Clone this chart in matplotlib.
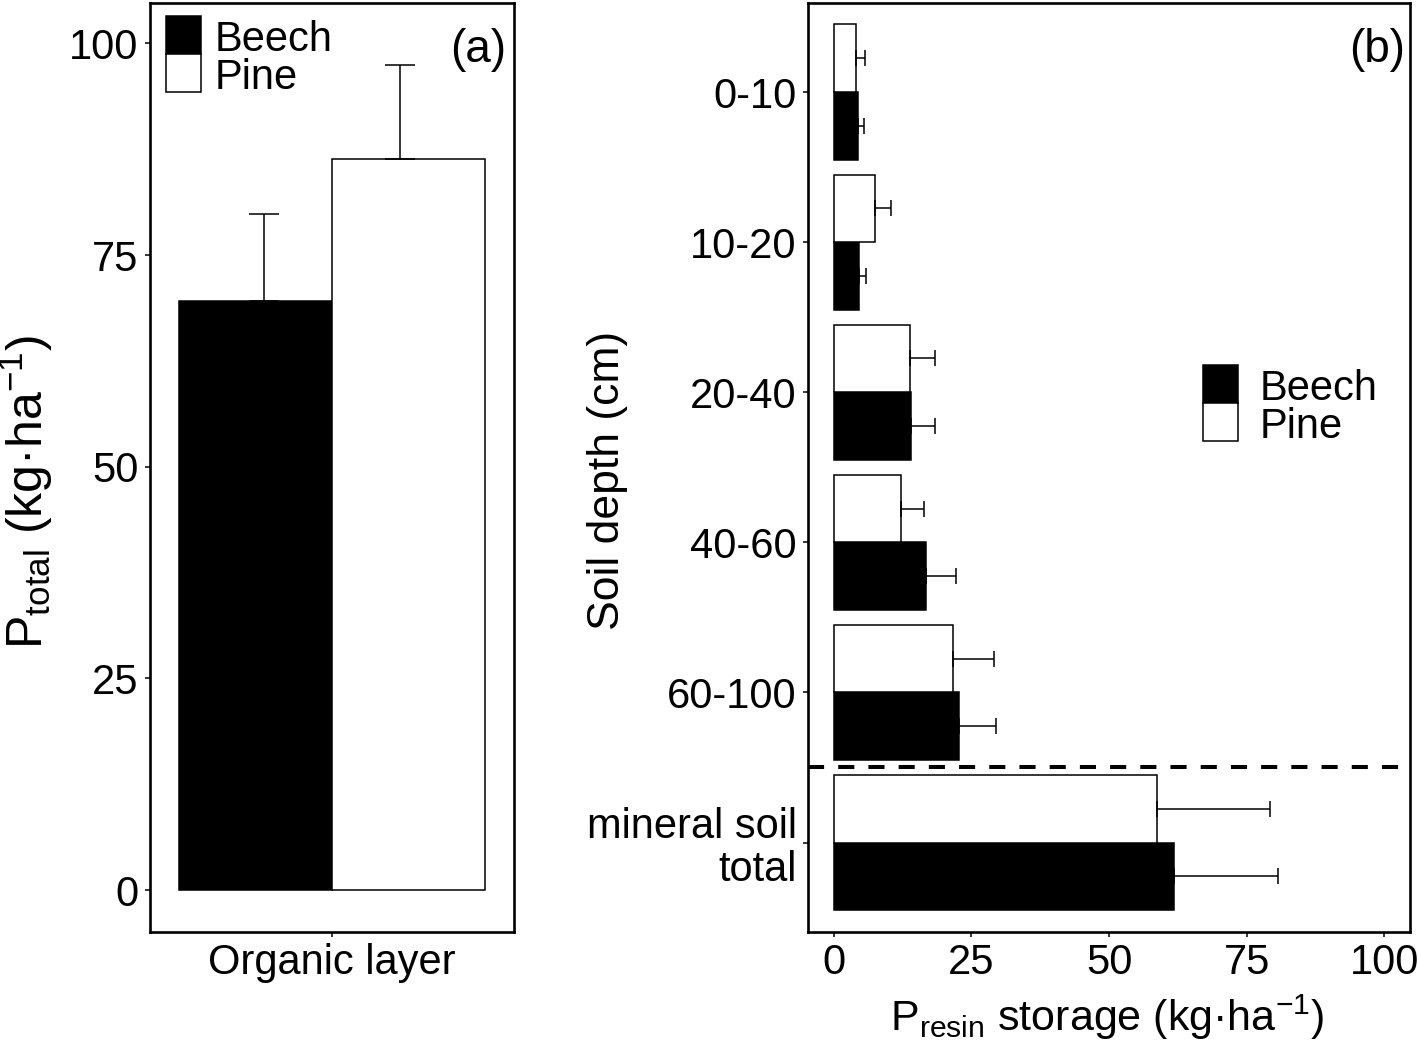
"""Phosphorus storage under beech and pine: organic layer and resin P by soil depth."""

import matplotlib
matplotlib.use("Agg")
import matplotlib.pyplot as plt
from matplotlib.patches import Rectangle
import numpy as np

plt.rcParams["font.family"] = ["Liberation Sans", "DejaVu Sans"]
plt.rcParams["mathtext.fontset"] = "custom"
plt.rcParams["mathtext.rm"] = "Liberation Sans"
plt.rcParams["mathtext.it"] = "Liberation Sans:italic"
plt.rcParams["mathtext.bf"] = "Liberation Sans:bold"

# ---- data -------------------------------------------------------------
SPECIES = ["Beech", "Pine"]
SPECIES_COLORS = ["black", "white"]

# panel (a): total P in the organic layer
organic_mean = [69.6, 86.3]   # beech, pine
organic_se = [10.3, 11.2]

# panel (b): resin P storage by soil depth
depth_labels = ["0-10", "10-20", "20-40", "40-60", "60-100", "mineral soil\ntotal"]
beech_resin = [4.4, 4.6, 14.0, 16.7, 22.7, 61.9]
beech_resin_se = [1.0, 1.3, 4.4, 5.5, 6.7, 18.9]
pine_resin = [4.1, 7.5, 13.8, 12.2, 21.6, 58.8]
pine_resin_se = [1.5, 2.8, 4.6, 4.1, 7.5, 20.5]

W, H = 1418, 1045
TICK_SIZE = 30
LW_FRAME = 1.9
LW_BAR = 1.1


def px(x, y):
    """Pixel position (from top-left) to figure fraction."""
    return x / W, 1 - y / H


def draw_legend(fig, left, top, text_offset):
    """Stacked square keys like the ggplot legend."""
    sq_w, sq_h = 35, 38
    for i, (name, color) in enumerate(zip(SPECIES, SPECIES_COLORS)):
        y_top = top + i * sq_h
        x0, y0 = px(left, y_top + sq_h)
        fig.patches.append(Rectangle((x0, y0), sq_w / W, sq_h / H, transform=fig.transFigure,
                                     facecolor=color, edgecolor="black", linewidth=LW_BAR))
        tx, ty = px(left + text_offset, y_top + 35)
        fig.text(tx, ty, name, fontsize=30, ha="left", va="baseline")


def style_axes(ax):
    for spine in ax.spines.values():
        spine.set_linewidth(LW_FRAME)
    ax.tick_params(length=3.6, width=1.1, labelsize=TICK_SIZE, pad=4.5, color="black")


fig = plt.figure(figsize=(W / 100, H / 100), dpi=100)

ax_bottom = (H - 931.7) / H
ax_height = 929 / H
ax_a = fig.add_axes([150 / W, ax_bottom, 364 / W, ax_height])
ax_b = fig.add_axes([808 / W, ax_bottom, 602 / W, ax_height])

# ---- panel (a) ------------------------------------------------------------
bar_w = 0.45
for i, (name, color) in enumerate(zip(SPECIES, SPECIES_COLORS)):
    xc = 1 + (i - 0.5) * bar_w
    ax_a.bar(xc, organic_mean[i], width=bar_w, color=color, edgecolor="black",
             linewidth=LW_BAR, zorder=2)
    x_err = 1 + (i - 0.5) * 0.4
    ax_a.errorbar(x_err, organic_mean[i], yerr=[[0], [organic_se[i]]], fmt="none",
                  ecolor="black", elinewidth=LW_BAR, capsize=10.8, capthick=LW_BAR, zorder=3)

ax_a.set_xlim(0.463, 1.537)
ax_a.set_ylim(-4.92, 104.8)
ax_a.set_xticks([1])
ax_a.set_xticklabels(["Organic layer"])
ax_a.set_yticks([0, 25, 50, 75, 100])
style_axes(ax_a)
ax_a.set_ylabel(r"P$_{\mathrm{total}}$ (kg·ha$^{-1}$)", fontsize=36)
ax_a.yaxis.set_label_coords(-0.261, 0.473)
ax_a.text(0.98, 0.949, "(a)", transform=ax_a.transAxes, fontsize=33, ha="right", va="center")

# ---- panel (b) ------------------------------------------------------------
ypos = np.arange(len(depth_labels))[::-1]
species_values = [(beech_resin, beech_resin_se, -1), (pine_resin, pine_resin_se, 1)]
for (vals, ses, side), color in zip(species_values, SPECIES_COLORS):
    yc = ypos + side * bar_w / 2
    ax_b.barh(yc, vals, height=bar_w, color=color, edgecolor="black", linewidth=LW_BAR, zorder=2)
    ax_b.errorbar(vals, yc, xerr=[np.zeros(len(ses)), ses], fmt="none", ecolor="black",
                  elinewidth=LW_BAR, capsize=5.5, capthick=LW_BAR, zorder=3)

ax_b.axhline(0.5, color="black", linewidth=2.9, linestyle=(0, (4, 3.5)), zorder=4)
ax_b.set_xlim(-4.7, 104.7)
ax_b.set_ylim(-0.594, 5.595)
ax_b.set_xticks([0, 25, 50, 75, 100])
ax_b.set_yticks(ypos)
ax_b.set_yticklabels(depth_labels)
for lab in ax_b.get_yticklabels():
    lab.set_linespacing(1.1)
style_axes(ax_b)
ax_b.set_ylabel("Soil depth (cm)", fontsize=32)
ax_b.yaxis.set_label_coords(-0.299, 0.486)
ax_b.set_xlabel(r"P$_{\mathrm{resin}}$ storage (kg·ha$^{-1}$)", fontsize=31)
ax_b.xaxis.set_label_coords(0.496, -0.066)
ax_b.xaxis.label.set_va("top")
ax_b.text(0.992, 0.949, "(b)", transform=ax_b.transAxes, fontsize=33, ha="right", va="center")

draw_legend(fig, 166, 16, 49)
draw_legend(fig, 1203, 365, 57)

fig.savefig("out.png", dpi=100)
